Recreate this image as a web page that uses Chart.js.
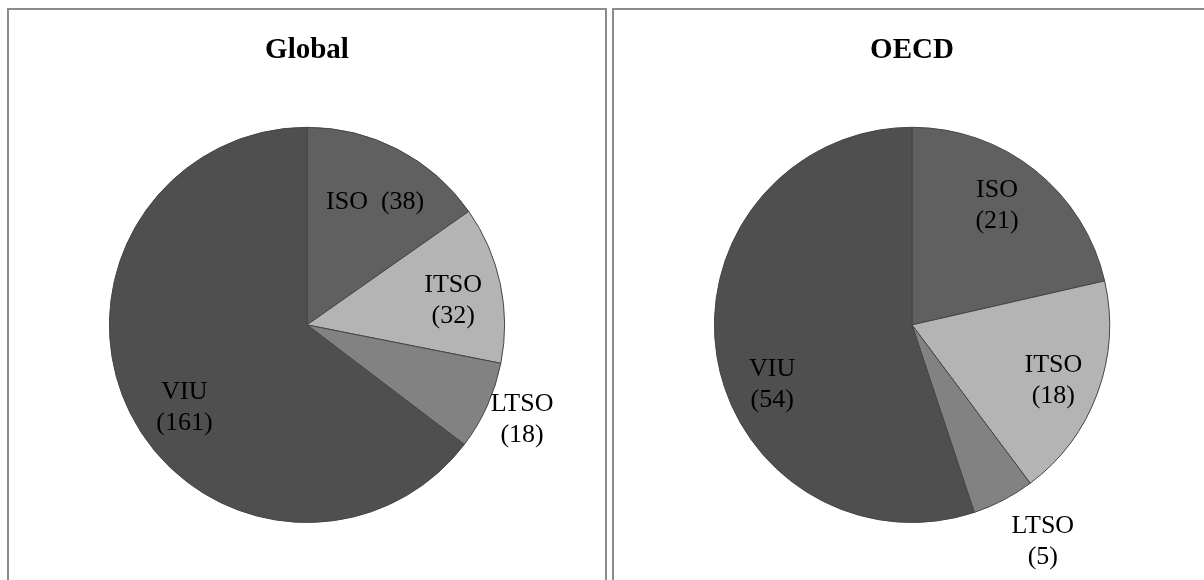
<!DOCTYPE html>
<html>
<head>
<meta charset="utf-8">
<script src="https://cdn.jsdelivr.net/npm/chart.js@4"></script>
<style>
  html, body { margin: 0; padding: 0; background: #fff; overflow: hidden; }
  body { width: 1204px; height: 580px; position: relative; }
  .panel {
    position: absolute;
    top: 8px;
    height: 600px;
    border: 2px solid #8c8c8c;
    background: #fff;
  }
  #panelGlobal { left: 7px; width: 596px; }
  #panelOecd { left: 612px; width: 596px; }
  .panel canvas { position: absolute; left: 0; top: 0; }
</style>
</head>
<body>
<div class="panel" id="panelGlobal"><canvas id="globalChart" width="596" height="570"></canvas></div>
<div class="panel" id="panelOecd"><canvas id="oecdChart" width="596" height="570"></canvas></div>

<script>
// categories and values
const CATEGORIES = ["ISO", "ITSO", "LTSO", "VIU"];
const GLOBAL_VALUES = [38, 32, 18, 161];
const OECD_VALUES = [21, 18, 5, 54];

// separator between name and count in each slice label
const GLOBAL_LABEL_SEP = ["  ", "\n", "\n", "\n"];
const OECD_LABEL_SEP = ["\n", "\n", "\n", "\n"];

const SLICE_COLORS = ["#606060", "#b4b4b4", "#828282", "#4f4f4f"];
const SERIF = "'Liberation Serif', 'Times New Roman', serif";

// label placement: [angle nudge in degrees from slice middle, fraction of radius]
const GLOBAL_LABEL_POS = [[1.6, 0.71], [2.5, 0.75], [-0.4, 1.19], [-7.8, 0.75]];
const OECD_LABEL_POS = [[-3, 0.74], [1.5, 0.77], [-3.6, 1.28], [-14, 0.77]];

const sliceLabels = {
  id: "sliceLabels",
  afterDatasetsDraw(chart, args, opts) {
    const ctx = chart.ctx;
    const meta = chart.getDatasetMeta(0);
    const values = chart.data.datasets[0].data;
    ctx.save();
    ctx.fillStyle = "#000";
    ctx.font = "26px " + SERIF;
    ctx.textAlign = "center";
    ctx.textBaseline = "middle";
    meta.data.forEach((arc, i) => {
      const [nudge, ratio] = opts.pos[i];
      const mid = (arc.startAngle + arc.endAngle) / 2 + nudge * Math.PI / 180;
      const r = arc.outerRadius * ratio;
      const cx = arc.x + r * Math.cos(mid);
      const cy = arc.y + r * Math.sin(mid);
      const lines = (chart.data.labels[i] + opts.sep[i] + "(" + values[i] + ")").split("\n");
      const lh = 31;
      lines.forEach((line, k) => {
        ctx.fillText(line, cx, cy + (k - (lines.length - 1) / 2) * lh);
      });
    });
    ctx.restore();
  },
};

function makePie(id, title, values, sep, pos) {
  new Chart(document.getElementById(id), {
    type: "pie",
    data: {
      labels: CATEGORIES,
      datasets: [{
        data: values,
        backgroundColor: SLICE_COLORS,
        borderColor: "#454545",
        borderWidth: 1,
        hoverOffset: 0,
        offset: 0,
      }],
    },
    options: {
      responsive: false,
      animation: false,
      events: [],
      layout: { padding: { top: 0, bottom: 57, left: 0, right: 0 } },
      plugins: {
        legend: { display: false },
        tooltip: { enabled: false },
        title: {
          display: true,
          text: title,
          color: "#000",
          font: { family: SERIF, size: 29, weight: "bold", lineHeight: 1.2 },
          padding: { top: 23, bottom: 59 },
        },
        sliceLabels: { sep: sep, pos: pos },
      },
    },
    plugins: [sliceLabels],
  });
}

makePie("globalChart", "Global", GLOBAL_VALUES, GLOBAL_LABEL_SEP, GLOBAL_LABEL_POS);
makePie("oecdChart", "OECD", OECD_VALUES, OECD_LABEL_SEP, OECD_LABEL_POS);
</script>
</body>
</html>
